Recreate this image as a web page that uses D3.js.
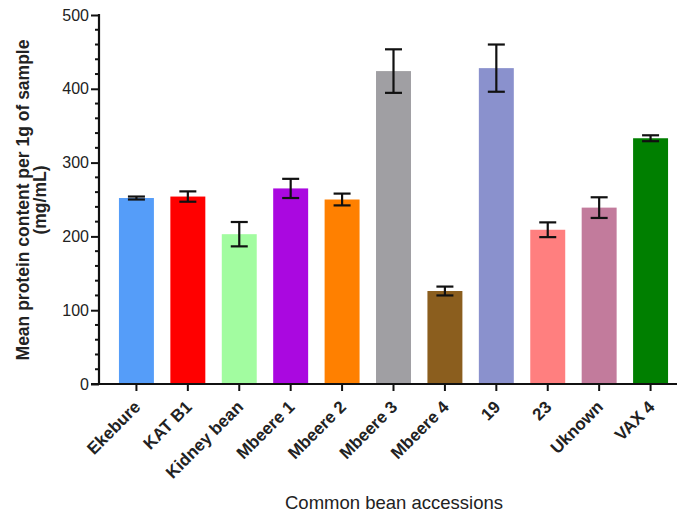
<!DOCTYPE html>
<html><head><meta charset="utf-8">
<script src="https://cdn.jsdelivr.net/npm/d3@7"></script>
<style>body{margin:0;background:#fff}svg{display:block}text{font-family:"Liberation Sans",Arial,sans-serif;fill:#222}</style>
</head><body><svg id="c" width="677" height="517"></svg>
<script>
const categories = ["Ekebure","KAT B1","Kidney bean","Mbeere 1","Mbeere 2","Mbeere 3","Mbeere 4","19","23","Uknown","VAX 4"];
const means = [252, 254, 203, 265, 250, 424, 126, 428, 209, 239, 333];
const errors = [2, 7, 16.5, 13, 8, 29.5, 6, 32, 10, 14, 4];
const colors = ["#559DF9","#FF0000","#A2FCA0","#AA08E0","#FF8000","#A09FA3","#8B5E1E","#8A91CD","#FF7F7F","#C27B9C","#007F00"];
const yTicks = [0,100,200,300,400,500];

const svg = d3.select("#c");
const x0 = 99, y0 = 384, yTop = 15;
const x = d3.scaleBand().domain(categories).range([x0, 688]).paddingInner(0.32).paddingOuter(0.388);
const y = d3.scaleLinear().domain([0,500]).range([y0, yTop]);

// bars
svg.selectAll("rect.bar").data(categories).join("rect")
  .attr("x", d => x(d)).attr("width", x.bandwidth())
  .attr("y", (d,i) => y(means[i])).attr("height", (d,i) => y0 - y(means[i]))
  .attr("fill", (d,i) => colors[i]);

// error bars
const eb = svg.append("g").attr("stroke","#111").attr("stroke-width",2.2);
categories.forEach((c,i) => {
  const cx = x(c) + x.bandwidth()/2;
  const hi = y(means[i]+errors[i]), lo = y(means[i]-errors[i]);
  eb.append("line").attr("x1",cx).attr("x2",cx).attr("y1",hi).attr("y2",lo);
  eb.append("line").attr("x1",cx-8.5).attr("x2",cx+8.5).attr("y1",hi).attr("y2",hi);
  eb.append("line").attr("x1",cx-8.5).attr("x2",cx+8.5).attr("y1",lo).attr("y2",lo);
});

// y axis
const ya = svg.append("g").attr("transform",`translate(${x0},0)`)
  .call(d3.axisLeft(y).tickValues(yTicks).tickSize(8).tickPadding(2));
const minor = d3.range(0,501,20).filter(v => v%100 !== 0);
ya.selectAll("line.minor").data(minor).join("line").attr("class","minor")
  .attr("x1",-4).attr("x2",0).attr("y1",d=>y(d)).attr("y2",d=>y(d)).attr("stroke","#111").attr("stroke-width",2);
ya.select(".domain").attr("stroke","#111").attr("stroke-width",2.2).attr("d",`M0,${yTop-1}V${y0}`);
ya.selectAll(".tick line").attr("stroke","#111").attr("stroke-width",2);
ya.selectAll(".tick text").style("font-size","16px").style("font-family","Liberation Sans, Arial, sans-serif").attr("fill","#222");

// x axis
const xa = svg.append("g").attr("transform",`translate(0,${y0})`)
  .call(d3.axisBottom(x).tickSize(7).tickSizeOuter(0));
xa.select(".domain").attr("stroke","#111").attr("stroke-width",2.2).attr("d",`M${x0-8},0H677`);
xa.selectAll(".tick line").attr("stroke","#111").attr("stroke-width",2);
xa.selectAll(".tick text").style("font-size","17px").style("font-weight","bold")
  .style("font-family","Liberation Sans, Arial, sans-serif").attr("fill","#222")
  .attr("text-anchor","end").attr("dy",null).attr("y",0)
  .attr("transform","translate(5,24) rotate(-45)");

// titles
svg.append("text").attr("transform","translate(29,200) rotate(-90)").attr("text-anchor","middle")
  .style("font-size","17.5px").style("font-weight","bold").text("Mean protein content per 1g of sample");
svg.append("text").attr("transform","translate(46,200) rotate(-90)").attr("text-anchor","middle")
  .style("font-size","17.5px").style("font-weight","bold").text("(mg/mL)");
svg.append("text").attr("x",394).attr("y",509).attr("text-anchor","middle")
  .style("font-size","18.5px").text("Common bean accessions");
</script></body></html>
